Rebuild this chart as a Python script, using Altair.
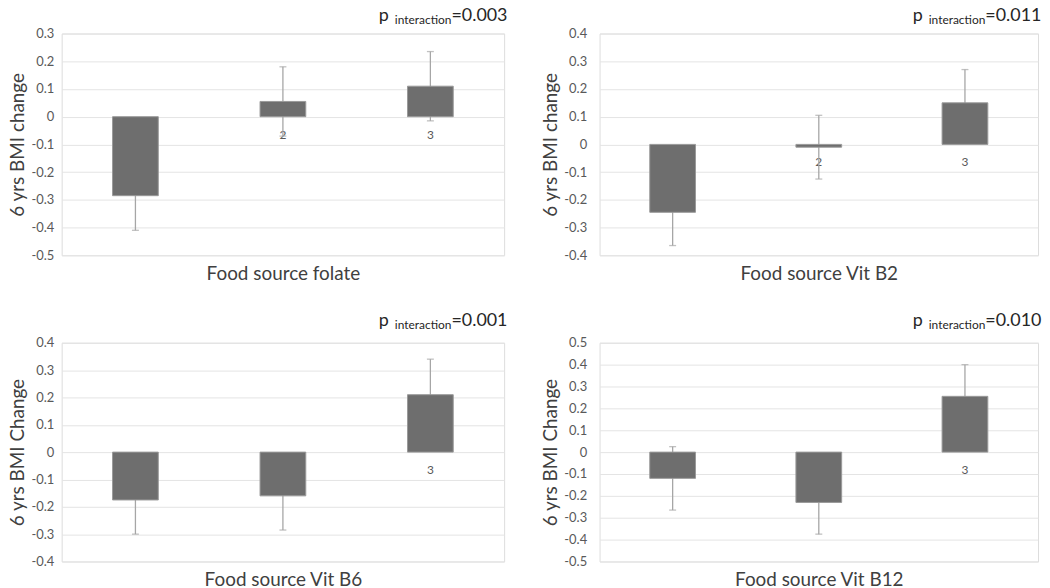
import altair as alt
import pandas as pd

categories = ["1", "2", "3"]

folate_mean = [-0.285, 0.055, 0.11]
folate_err = [0.125, 0.125, 0.125]
b2_mean = [-0.245, -0.01, 0.15]
b2_err = [0.12, 0.115, 0.12]
b6_mean = [-0.175, -0.16, 0.21]
b6_err = [0.125, 0.125, 0.13]
b12_mean = [-0.12, -0.23, 0.255]
b12_err = [0.145, 0.145, 0.145]

x_titles = ["Food source folate", "Food source Vit B2", "Food source Vit B6", "Food source Vit B12"]
y_titles = ["6 yrs BMI change", "6 yrs BMI change", "6 yrs BMI Change", "6 yrs BMI Change"]
p_values = ["0.003", "0.011", "0.001", "0.010"]
y_domains = [[-0.5, 0.3], [-0.4, 0.4], [-0.4, 0.4], [-0.5, 0.5]]

FONT = "Lato"
BAR = "#6e6e6e"
ERR = "#a6a6a6"
TXT = "#404040"


def panel(i, means, errs, width, height, label_pad, p_base):
    df = pd.DataFrame({"cat": categories, "mean": means, "err": errs})
    df["lo"] = df["mean"] - df["err"]
    df["hi"] = df["mean"] + df["err"]
    df["base"] = 0.0
    lo, hi = y_domains[i]
    ticks = [round(lo + 0.1 * k, 1) for k in range(int(round((hi - lo) / 0.1)) + 1)]
    xenc = alt.X(
        "cat:N",
        scale=alt.Scale(domain=categories, paddingInner=0, paddingOuter=0),
        axis=alt.Axis(title=x_titles[i], labels=False, ticks=False, domain=False,
                      grid=False, titlePadding=9, titleFontSize=19, titleFont=FONT,
                      titleColor=TXT, titleFontWeight="normal"),
    )
    yaxis = alt.Axis(
        title=y_titles[i], values=ticks, ticks=False, domain=False,
        labelExpr="datum.value == 0 ? '0' : (datum.value < 0 ? '-' : '') + format(abs(datum.value), '.1f')",
        labelFont=FONT, labelFontSize=13, labelColor="#595959", labelPadding=label_pad,
        titleFont=FONT, titleFontSize=19, titleColor=TXT, titleFontWeight="normal",
        titlePadding=3, gridColor="#e4e4e4", gridWidth=1,
    )
    yscale = alt.Scale(domain=[lo, hi], nice=False, zero=False)
    base = alt.Chart(df)
    labels = base.mark_text(dy=18, fontSize=12, color="#595959", font=FONT).encode(
        x=xenc, y=alt.Y("base:Q", scale=yscale, axis=yaxis), text="cat:N")
    rules = base.mark_rule(color=ERR, strokeWidth=1.3).encode(
        x=xenc, y=alt.Y("lo:Q", scale=yscale, axis=yaxis), y2="hi:Q")
    cap_lo = base.mark_tick(color=ERR, size=7, thickness=1.3).encode(
        x=xenc, y=alt.Y("lo:Q", scale=yscale, axis=yaxis))
    cap_hi = base.mark_tick(color=ERR, size=7, thickness=1.3).encode(
        x=xenc, y=alt.Y("hi:Q", scale=yscale, axis=yaxis))
    bars = base.mark_bar(size=46, color=BAR, stroke="#999999", strokeWidth=1).encode(
        x=xenc, y=alt.Y("mean:Q", scale=yscale, axis=yaxis), y2="base:Q")
    eq_x = width - 53
    ptxt = alt.Chart(pd.DataFrame({"k": [0]})).mark_text(
        font=FONT, fontSize=18, color="#262626", align="right", baseline="alphabetic"
    ).encode(x=alt.value(eq_x - 63), y=alt.value(p_base), text=alt.value("p"))
    psub = alt.Chart(pd.DataFrame({"k": [0]})).mark_text(
        font=FONT, fontSize=12, color="#262626", align="right", baseline="alphabetic"
    ).encode(x=alt.value(eq_x), y=alt.value(p_base + 3), text=alt.value("interaction"))
    peq = alt.Chart(pd.DataFrame({"k": [0]})).mark_text(
        font=FONT, fontSize=18, color="#262626", align="left", baseline="alphabetic"
    ).encode(x=alt.value(eq_x), y=alt.value(p_base), text=alt.value("=" + p_values[i]))
    return alt.layer(labels, rules, cap_lo, cap_hi, bars, ptxt, psub, peq).properties(
        width=width, height=height)


p1 = panel(0, folate_mean, folate_err, 445, 223, 8, -13)
p2 = panel(1, b2_mean, b2_err, 441, 223, 13, -13)
p3 = panel(2, b6_mean, b6_err, 445, 220, 8, -17)
p4 = panel(3, b12_mean, b12_err, 441, 220, 13, -17)

chart = alt.vconcat(
    alt.hconcat(p1, p2, spacing=33),
    alt.hconcat(p3, p4, spacing=33),
    spacing=27,
).properties(
    padding={"top": -4, "left": 0, "right": 0, "bottom": 0}
).configure_view(stroke=None).configure(background="white")

chart.save("out.html", embed_options={"renderer": "svg", "actions": False})
